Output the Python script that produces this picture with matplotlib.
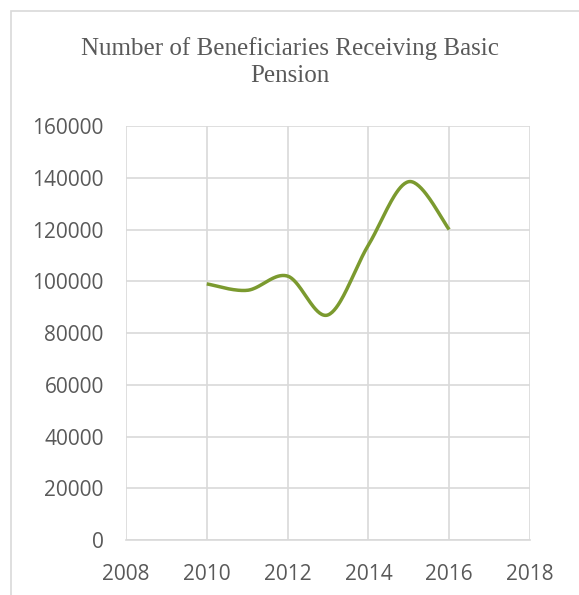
import numpy as np
import matplotlib.pyplot as plt
from matplotlib.patches import Rectangle

# DATA #
years = [2010, 2011, 2012, 2013, 2014, 2015, 2016]
beneficiaries = [99000, 96500, 102000, 87000, 114000, 138500, 120000]

title = 'Number of Beneficiaries Receiving Basic\nPension'
x_ticks = [2008, 2010, 2012, 2014, 2016, 2018]
y_ticks = [0, 20000, 40000, 60000, 80000, 100000, 120000, 140000, 160000]

text_col = '#595959'
grid_col = '#d9d9d9'
line_col = '#7b9a2f'


def smooth_curve(x, y, steps=40):
    # Catmull-Rom style bezier smoothing between the points (like a spreadsheet "smoothed line")
    x = np.asarray(x, dtype=float)
    y = np.asarray(y, dtype=float)
    n = len(x)
    xs, ys = [], []
    t = np.linspace(0, 1, steps)
    for i in range(n - 1):
        p0 = np.array([x[max(i - 1, 0)], y[max(i - 1, 0)]])
        p1 = np.array([x[i], y[i]])
        p2 = np.array([x[i + 1], y[i + 1]])
        p3 = np.array([x[min(i + 2, n - 1)], y[min(i + 2, n - 1)]])
        c1 = p1 + (p2 - p0) / 6
        c2 = p2 - (p3 - p1) / 6
        pts = ((1 - t) ** 3)[:, None] * p1 + (3 * (1 - t) ** 2 * t)[:, None] * c1 \
            + (3 * (1 - t) * t ** 2)[:, None] * c2 + (t ** 3)[:, None] * p2
        xs.extend(pts[:, 0])
        ys.extend(pts[:, 1])
    return np.array(xs), np.array(ys)


fig = plt.figure(figsize=(5.79, 5.95), dpi=100)
ax = fig.add_axes([0.2176, 0.0924, 0.6978, 0.6958])

# chart area border
fig.patches.append(Rectangle((11 / 579, -0.05), 1.2, 1 - 11 / 595 + 0.05,
                             transform=fig.transFigure, fill=False,
                             edgecolor=grid_col, linewidth=1.2))

sx, sy = smooth_curve(years, beneficiaries)
ax.plot(sx, sy, color=line_col, linewidth=2.5, solid_capstyle='butt', zorder=3)

ax.set_xlim(2008, 2018)
ax.set_ylim(0, 160000)
ax.set_xticks(x_ticks)
ax.set_yticks(y_ticks)
ax.grid(True, color=grid_col, linewidth=1.2)
ax.set_axisbelow(True)
for side in ['top', 'right', 'left']:
    ax.spines[side].set_visible(False)
ax.spines['bottom'].set_color(grid_col)
ax.spines['bottom'].set_linewidth(1.2)
ax.tick_params(length=0, labelsize=15, colors=text_col)
ax.tick_params(axis='y', pad=16)
ax.tick_params(axis='x', pad=17)
for lab in ax.get_xticklabels() + ax.get_yticklabels():
    lab.set_fontfamily('Open Sans')

fig.text(0.5, 0.896, title, ha='center', va='center', fontsize=18,
         family='Liberation Serif', color=text_col, linespacing=1.3)

fig.savefig('out.png', dpi=100)
